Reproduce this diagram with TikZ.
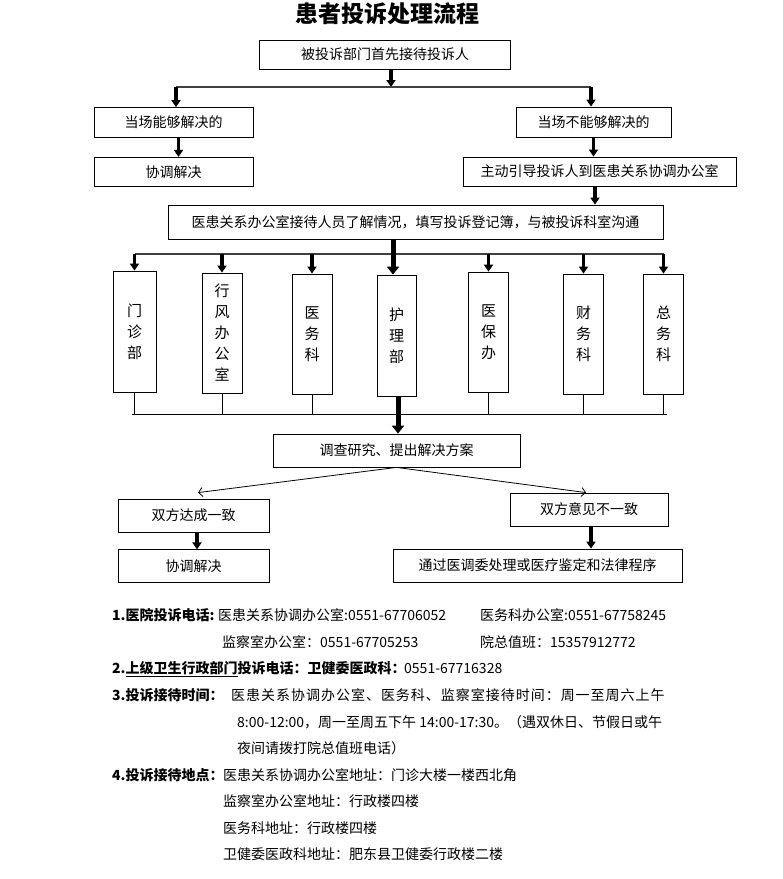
\documentclass[tikz,border=0pt]{standalone}
\usepackage{fontspec}
\setmainfont{Noto Sans CJK SC}
\usetikzlibrary{arrows.meta,positioning,calc}

\tikzstyle{box} = [rectangle, draw=black, line width=0.8pt, minimum height=29pt, inner sep=0pt, text centered, font=\fontsize{14}{16}\selectfont]
\tikzstyle{dept} = [box, minimum width=40pt, minimum height=120pt, align=center, font=\fontsize{15}{21}\selectfont]
\tikzstyle{arrow} = [line width=3.5pt, -{Triangle[width=9pt,length=7pt]}]
\tikzstyle{mainarrow} = [line width=5pt, -{Triangle[width=12pt,length=8pt]}]
\tikzstyle{thinarrow} = [line width=0.8pt, -{Straight Barb[length=4pt,width=9pt]}]
\tikzstyle{bus} = [line width=1.2pt, draw=black!75]
\tikzstyle{joinline} = [line width=0.8pt]
\tikzstyle{note} = [anchor=base west, inner sep=0pt, font=\fontsize{14}{16}\selectfont]
\tikzstyle{notebf} = [note, font=\fontsize{14}{16}\selectfont\bfseries]

\begin{document}
\begin{tikzpicture}[x=1pt,y=-1pt]
\useasboundingbox (0,0) rectangle (783,879);

\node (title) [font=\fontsize{23}{23}\selectfont\bfseries] at (387.5,14) {患者投诉处理流程};

\node (recv) [box, minimum width=251pt] at (385,54.5) {被投诉部门首先接待投诉人};
\node (canfix) [box, minimum width=159pt, minimum height=30pt] at (173.5,122.5) {当场能够解决的};
\node (cannot) [box, minimum width=155pt, minimum height=30pt] at (593.5,122) {当场不能够解决的};
\node (solve1) [box, minimum width=159pt, below=19pt of canfix] {协调解决};
\node (guide) [box, minimum width=273pt] at (599.5,171.5) {主动引导投诉人到医患关系协调办公室};
\node (office) [box, minimum width=495pt, minimum height=34pt] at (415.5,222) {医患关系办公室接待人员了解情况，填写投诉登记簿，与被投诉科室沟通};

% departments
\node (mz) [dept, minimum width=43pt, minimum height=121pt] at (134.5,331.5) {门\\诊\\部};
\node (xf) [dept] at (222,333) {行\\风\\办\\公\\室};
\node (yw) [dept] at (312,334) {医\\务\\科};
\node (hl) [dept, minimum width=39pt, minimum height=121pt] at (396.5,335.5) {护\\理\\部};
\node (yb) [dept] at (488.5,332) {医\\保\\办};
\node (cw) [dept] at (583.5,334) {财\\务\\科};
\node (zw) [dept] at (663.5,334) {总\\务\\科};

\node (survey) [box, minimum width=247pt, minimum height=33pt] at (396.5,450.5) {调查研究、提出解决方案};
\node (agree) [box, minimum width=151pt, minimum height=33pt] at (193.5,515.5) {双方达成一致};
\node (disagree) [box, minimum width=158pt, minimum height=33pt] at (589,509.5) {双方意见不一致};
\node (solve2) [box, minimum width=151pt, minimum height=33pt, below=17pt of agree] {协调解决};
\node (legal) [box, minimum width=289pt, minimum height=33pt] at (537.5,565.5) {通过医调委处理或医疗鉴定和法律程序};

%arrows
\coordinate (brA) at (391,87);
\coordinate (brL) at (176,87);
\coordinate (brR) at (591,87);
\draw [arrow] (recv.south -| brA) -- (brA);
\draw [bus] (brL) -- (brR);
\draw [arrow] (brL) -- (brL |- canfix.north);
\draw [arrow] (brR) -- (brR |- cannot.north);
\draw [arrow] ([xshift=5pt]canfix.south) -- ([xshift=5pt]solve1.north);
\draw [arrow] (cannot.south) -- (cannot.south |- guide.north);
\draw [arrow] ([xshift=-4.5pt]guide.south) -- ([xshift=-4.5pt]guide.south |- office.north);

\coordinate (brB) at (135,254);
\coordinate (brB2) at (664,254);
\draw [bus] (brB) -- (brB2);
\foreach \n in {mz,xf,yw,yb,cw,zw}
  \draw [arrow] (\n.north |- brB) -- (\n.north);
\draw [mainarrow] ([xshift=-3.5pt]hl.north |- office.south) -- ([xshift=-3.5pt]hl.north);

\coordinate (colL) at (132,414);
\coordinate (colR) at (667,414);
\foreach \n in {mz,xf,yw,yb,cw,zw}
  \draw [joinline] (\n.south) -- (\n.south |- colL);
\draw [joinline] (colL) -- (colR);
\draw [mainarrow] ([xshift=1.5pt]hl.south) -- ([xshift=1.5pt]hl.south |- survey.north);

\draw [thinarrow] (survey.south) -- ([shift={(4.5,-6)}]agree.north);
\draw [thinarrow] (survey.south) -- ([xshift=-3pt]disagree.north);
\draw [arrow] ([xshift=3.5pt]agree.south) -- ([xshift=3.5pt]solve2.north);
\draw [arrow] ([xshift=2pt]disagree.south) -- ([xshift=2pt]disagree.south |- legal.north);

% notes
\node (tel1) [notebf] at (112,620) {1.医院投诉电话:};
\node (tel1a) [note] at (218,620) {医患关系协调办公室:0551-67706052};
\node (tel1b) [note] at (480,620) {医务科办公室:0551-67758245};
\node (tel2a) [note] at (222,647) {监察室办公室：0551-67705253};
\node (tel2b) [note] at (480,647) {院总值班：15357912772};
\node (tel3) [notebf] at (112,673) {2.\underline{上级卫生行政部门}投诉电话：卫健委医政科：};
\node (tel3a) [note] at (404,673) {0551-67716328};
\node (time) [notebf] at (112,700) {3.投诉接待时间：};
\node (time1) [note, font=\fontsize{14}{16}\selectfont\addfontfeature{LetterSpace=7}] at (231,700) {医患关系协调办公室、医务科、监察室接待时间：周一至周六上午};
\node (time2) [note] at (237,727) {8:00-12:00，周一至周五下午 14:00-17:30。（遇双休日、节假日或午};
\node (time3) [note] at (237,753) {夜间请拨打院总值班电话）};
\node (addr) [notebf] at (112,780) {4.投诉接待地点：};
\node (addr1) [note] at (223,780) {医患关系协调办公室地址：门诊大楼一楼西北角};
\node (addr2) [note] at (223,806) {监察室办公室地址：行政楼四楼};
\node (addr3) [note] at (223,833) {医务科地址：行政楼四楼};
\node (addr4) [note] at (223,859) {卫健委医政科地址：肥东县卫健委行政楼二楼};
\end{tikzpicture}
\end{document}
